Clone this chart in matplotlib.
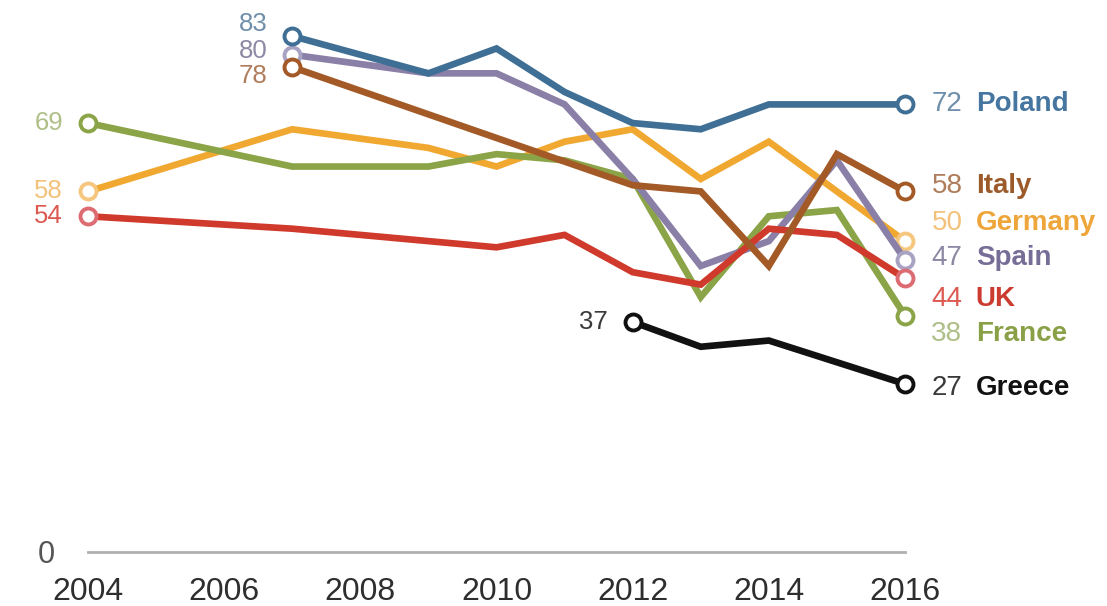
import matplotlib
matplotlib.use("Agg")
import matplotlib.pyplot as plt

plt.rcParams['font.family'] = ['Liberation Sans', 'DejaVu Sans']

# ---- data ----
poland_years = [2007, 2009, 2010, 2011, 2012, 2013, 2014, 2015, 2016]
poland_vals = [83, 77, 81, 74, 69, 68, 72, 72, 72]

spain_years = [2007, 2009, 2010, 2011, 2012, 2013, 2014, 2015, 2016]
spain_vals = [80, 77, 77, 72, 60, 46, 50, 63, 47]

italy_years = [2007, 2012, 2013, 2014, 2015, 2016]
italy_vals = [78, 59, 58, 46, 64, 58]

germany_years = [2004, 2007, 2009, 2010, 2011, 2012, 2013, 2014, 2015, 2016]
germany_vals = [58, 68, 65, 62, 66, 68, 60, 66, 58, 50]

uk_years = [2004, 2007, 2009, 2010, 2011, 2012, 2013, 2014, 2015, 2016]
uk_vals = [54, 52, 50, 49, 51, 45, 43, 52, 51, 44]

france_years = [2004, 2007, 2009, 2010, 2011, 2012, 2013, 2014, 2015, 2016]
france_vals = [69, 62, 62, 64, 63, 60, 41, 54, 55, 38]

greece_years = [2012, 2013, 2014, 2016]
greece_vals = [37, 33, 34, 27]

tick_years = [2004, 2006, 2008, 2010, 2012, 2014, 2016]

# ---- styles ----
series = [
    # name, years, vals, line color, marker edge, number color, name color, zorder
    ("Germany", germany_years, germany_vals, "#f0a830", "#f5c77e", "#f3c27a", "#eea53a", 2),
    ("France", france_years, france_vals, "#8ba447", "#8ba447", "#afbf88", "#89a046", 3),
    ("Spain", spain_years, spain_vals, "#8a7fa6", "#a9a3c3", "#8d88a4", "#776e98", 4),
    ("UK", uk_years, uk_vals, "#d03a2c", "#dd6c72", "#dc5a52", "#cc3b30", 5),
    ("Italy", italy_years, italy_vals, "#a35a27", "#a35a27", "#b07d5c", "#9c5a2a", 6),
    ("Poland", poland_years, poland_vals, "#3f6f94", "#3f6f94", "#6f8fab", "#4676a0", 7),
    ("Greece", greece_years, greece_vals, "#111111", "#111111", "#3a3a3a", "#111111", 8),
]

# label vertical nudges (points) for end labels and start labels
end_nudge = {"Poland": 0, "Italy": 4, "Germany": 13, "Spain": 1, "UK": -15, "France": -13, "Greece": -3}
start_nudge = {"Poland": 9, "Spain": 2.5, "Italy": -6.5, "Germany": 0, "UK": 0, "France": 0, "Greece": 0}

fig = plt.figure(figsize=(11.07, 6.06), dpi=100)
ax = fig.add_axes([88 / 1107, (606 - 551.8) / 606, 817 / 1107, 546.8 / 606])
ax.set_xlim(2004, 2016)
ax.set_ylim(0, 88)
for s in ax.spines.values():
    s.set_visible(False)

# baseline at zero
ax.plot([tick_years[0], tick_years[-1]], [0, 0], color="#b0b0b0", lw=2, zorder=1, clip_on=False)

for name, yrs, vals, lc, mec, numc, namec, z in series:
    ax.plot(yrs, vals, color=lc, lw=4.8, solid_joinstyle="miter", zorder=z, clip_on=False)
    ax.plot([yrs[0], yrs[-1]], [vals[0], vals[-1]], ls="none", marker="o", ms=11.5,
            mfc="white", mec=mec, mew=2.8, zorder=z + 0.5, clip_on=False)
    # start label
    ax.annotate(str(vals[0]), (yrs[0], vals[0]), xytext=(-18, start_nudge[name]),
                textcoords="offset points", ha="right", va="center",
                fontsize=18.5, color=numc, zorder=10)
    # end label
    ax.annotate(str(vals[-1]), (yrs[-1], vals[-1]), xytext=(19, end_nudge[name]),
                textcoords="offset points", ha="left", va="center",
                fontsize=20, color=numc, zorder=10)
    ax.annotate(name, (yrs[-1], vals[-1]), xytext=(19 + 32, end_nudge[name]),
                textcoords="offset points", ha="left", va="center",
                fontsize=20, fontweight="bold", color=namec, zorder=10)

ax.set_xticks(tick_years)
ax.set_xticklabels([str(t) for t in tick_years], fontsize=23, color="#2e2e2e")
ax.set_yticks([0])
ax.set_yticklabels(["0"], fontsize=22, color="#555555")
ax.tick_params(axis="x", length=0, pad=18)
ax.tick_params(axis="y", length=0, pad=24)

fig.savefig("out.png", dpi=100, facecolor="white")
